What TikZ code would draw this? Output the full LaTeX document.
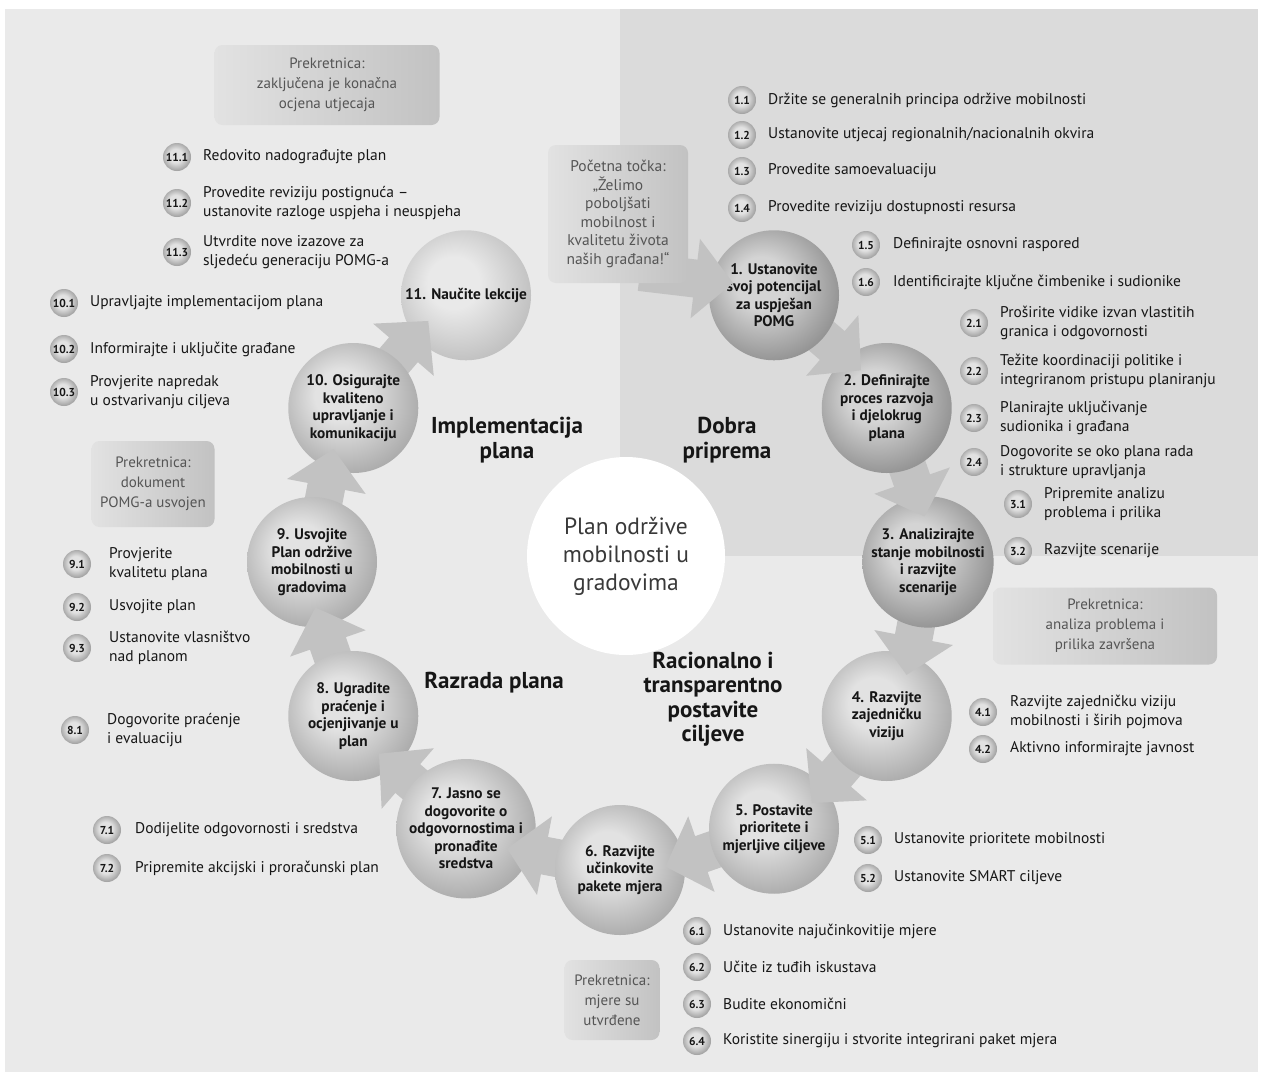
\documentclass[tikz,border=0pt]{standalone}
\usepackage{fontspec}
\setmainfont{PT Sans}
\usetikzlibrary{calc}
\definecolor{bgpanel}{HTML}{EAEAEA}
\definecolor{bgquad}{HTML}{DBDBDB}
\definecolor{arrowgray}{HTML}{C2C2C2}
\definecolor{dIn}{HTML}{D4D4D4}
\definecolor{dOut}{HTML}{8A8A8A}
\definecolor{mIn}{HTML}{E2E2E2}
\definecolor{mOut}{HTML}{A4A4A4}
\definecolor{lIn}{HTML}{E9E9E9}
\definecolor{lOut}{HTML}{BBBBBB}
\definecolor{bIn}{HTML}{E2E2E2}
\definecolor{bOut}{HTML}{979797}
\definecolor{msL}{HTML}{E2E2E2}
\definecolor{msR}{HTML}{C2C2C2}
\definecolor{mstext}{HTML}{555555}
\definecolor{ink}{HTML}{161616}
\pgfdeclareradialshading{balldark}{\pgfpoint{-6bp}{6bp}}{color(0bp)=(dIn); color(10bp)=(dIn); color(31bp)=(dOut); color(50bp)=(dOut)}
\pgfdeclareradialshading{ballmid}{\pgfpoint{-6bp}{6bp}}{color(0bp)=(mIn); color(10bp)=(mIn); color(31bp)=(mOut); color(50bp)=(mOut)}
\pgfdeclareradialshading{balllight}{\pgfpoint{-6bp}{6bp}}{color(0bp)=(lIn); color(10bp)=(lIn); color(31bp)=(lOut); color(50bp)=(lOut)}
\pgfdeclareradialshading{ballbadge}{\pgfpoint{-3bp}{3bp}}{color(0bp)=(bIn); color(12bp)=(bIn); color(28bp)=(bOut); color(50bp)=(bOut)}
\newcommand{\blockarrow}[2]{%
  \coordinate (ah) at ($(#2)!38pt!(#1)$);
  \fill[arrowgray] ($(#1)!19pt!90:(#2)$) -- ($(ah)!19pt!90:(#2)$) -- ($(ah)!40pt!90:(#2)$) -- (#2)
    -- ($(ah)!40pt!-90:(#2)$) -- ($(ah)!19pt!-90:(#2)$) -- ($(#1)!19pt!-90:(#2)$) -- cycle;}
\newcommand{\actitem}[6]{%
  \node[badge] (b#1) at (#3,#4) {#2};
  \node[itemtxt] (t#1) at ($(b#1)+(#5,0)$) {#6};}
\begin{document}
\begin{tikzpicture}[x=1pt,y=-1pt,
  stepdark/.style={circle, minimum size=130pt, inner sep=0pt, shading=balldark, align=center, font=\fontsize{15.3}{17.5}\selectfont\bfseries, text=ink},
  stepmid/.style={stepdark, shading=ballmid},
  steplight/.style={stepdark, shading=balllight},
  badge/.style={circle, minimum size=28pt, inner sep=0pt, shading=ballbadge, font=\fontsize{11.5}{11.5}\selectfont\bfseries, text=ink},
  itemtxt/.style={anchor=west, align=left, inner sep=0pt, font=\fontsize{15.5}{19.5}\selectfont, text=ink},
  milestone/.style 2 args={rounded corners=8pt, left color=msL, right color=msR, align=center, font=\fontsize{15}{20}\selectfont, text=mstext, inner sep=0pt, minimum width=#1, minimum height=#2},
  phase/.style={align=center, font=\fontsize{23}{24.5}\selectfont\bfseries, text=ink}]
\useasboundingbox (0,0) rectangle (1263,1079);
\fill[white] (0,0) rectangle (1263,1079);
\fill[bgpanel] (5,9) rectangle (1258,1072);
\fill[bgquad] (620,9) rectangle (1258,556);

% centre
\node[circle, fill=white, minimum size=198pt, inner sep=0pt, align=center, font=\fontsize{23.5}{28}\selectfont, text=ink!85] (centre) at (626,556) {Plan održive\\mobilnosti u\\gradovima};

% phase labels
\node[phase] (phImpl) at (507,440) {Implementacija\\plana};
\node[phase] (phDobra) at (727,440) {Dobra\\priprema};
\node[phase] (phRac) at (713,699) {Racionalno i\\transparentno\\postavite\\ciljeve};
\node[phase] (phRaz) at (494,683) {Razrada plana};

% milestones
\node[milestone={225pt}{80pt}] (msTop) at (327,85) {Prekretnica:\\zaključena je konačna\\ocjena utjecaja};
\node[milestone={123pt}{86pt}] (msLeft) at (153,484) {Prekretnica:\\dokument\\POMG-a usvojen};
\node[milestone={224pt}{77pt}] (msRight) at (1105,626) {Prekretnica:\\analiza problema i\\prilika završena};
\node[milestone={95pt}{80pt}] (msBottom) at (612,1000) {Prekretnica:\\mjere su\\utvrđene};

% activity items
\actitem{s11a}{11.1}{177}{157}{26}{Redovito nadograđujte plan}
\actitem{s11b}{11.2}{177}{203}{26}{Provedite reviziju postignuća –\\ustanovite razloge uspjeha i neuspjeha}
\actitem{s11c}{11.3}{177}{252}{26}{Utvrdite nove izazove za\\sljedeću generaciju POMG-a}
\actitem{s10a}{10.1}{64}{303}{26}{Upravljajte implementacijom plana}
\actitem{s10b}{10.2}{64}{349}{26}{Informirajte i uključite građane}
\actitem{s10c}{10.3}{64}{392}{26}{Provjerite napredak\\u ostvarivanju ciljeva}
\actitem{s9a}{9.1}{77}{564}{32}{Provjerite\\kvalitetu plana}
\actitem{s9b}{9.2}{77}{607}{32}{Usvojite plan}
\actitem{s9c}{9.3}{77}{648}{32}{Ustanovite vlasništvo\\nad planom}
\actitem{s8a}{8.1}{75}{730}{32}{Dogovorite praćenje\\i evaluaciju}
\actitem{s7a}{7.1}{107}{830}{28}{Dodijelite odgovornosti i sredstva}
\actitem{s7b}{7.2}{107}{868}{28}{Pripremite akcijski i proračunski plan}
\actitem{s6a}{6.1}{697}{931}{26}{Ustanovite najučinkovitije mjere}
\actitem{s6b}{6.2}{697}{967}{26}{Učite iz tuđih iskustava}
\actitem{s6c}{6.3}{697}{1004}{26}{Budite ekonomični}
\actitem{s6d}{6.4}{697}{1041}{26}{Koristite sinergiju i stvorite integrirani paket mjera}
\actitem{s5a}{5.1}{868}{840}{26}{Ustanovite prioritete mobilnosti}
\actitem{s5b}{5.2}{868}{878}{26}{Ustanovite SMART ciljeve}
\actitem{s4a}{4.1}{983}{712}{27}{Razvijte zajedničku viziju\\mobilnosti i širih pojmova}
\actitem{s4b}{4.2}{983}{749}{27}{Aktivno informirajte javnost}
\actitem{s3a}{3.1}{1018}{504}{26}{Pripremite analizu\\problema i prilika}
\actitem{s3b}{3.2}{1018}{551}{26}{Razvijte scenarije}
\actitem{s2a}{2.1}{974}{323}{26}{Proširite vidike izvan vlastitih\\granica i odgovornosti}
\actitem{s2b}{2.2}{974}{371}{26}{Težite koordinaciji politike i\\integriranom pristupu planiranju}
\actitem{s2c}{2.3}{974}{418}{26}{Planirajte uključivanje\\sudionika i građana}
\actitem{s2d}{2.4}{974}{462}{26}{Dogovorite se oko plana rada\\i strukture upravljanja}
\actitem{s1a}{1.1}{742}{100}{26}{Držite se generalnih principa održive mobilnosti}
\actitem{s1b}{1.2}{742}{135}{26}{Ustanovite utjecaj regionalnih/nacionalnih okvira}
\actitem{s1c}{1.3}{742}{171}{26}{Provedite samoevaluaciju}
\actitem{s1d}{1.4}{742}{208}{26}{Provedite reviziju dostupnosti resursa}
\actitem{s1e}{1.5}{866}{245}{27}{Definirajte osnovni raspored}
\actitem{s1f}{1.6}{866}{282}{27}{Identificirajte ključne čimbenike i sudionike}

% ring positions
\coordinate (O) at (620,562);
\foreach \k/\ang in {1/-60,2/-30,3/0,4/30,5/60,6/90,7/120,8/150,9/180,10/210,11/240}{
  \pgfmathsetmacro\tip{\ang-8.5}
  \coordinate (p\k) at ($(O)+(\ang:308)$);
  \coordinate (h\k) at ($(O)+({\tip}:308)$);
}

% circles and arrows (drawn from last to first so each arrow lies over its target and under its source)
\node[steplight] (c11) at (p11) {11. Naučite lekcije};
\blockarrow{p10}{h11}
\node[stepmid] (c10) at (p10) {10. Osigurajte\\kvaliteno\\upravljanje i\\komunikaciju};
\blockarrow{p9}{h10}
\node[stepmid] (c9) at (p9) {9. Usvojite\\Plan održive\\mobilnosti u\\gradovima};
\blockarrow{p8}{h9}
\node[stepmid] (c8) at (p8) {8. Ugradite\\praćenje i\\ocjenjivanje u\\plan};
\blockarrow{p7}{h8}
\node[stepmid] (c7) at (p7) {7. Jasno se\\dogovorite o\\odgovornostima i\\pronađite\\sredstva};
\blockarrow{p6}{h7}
\node[stepmid] (c6) at (p6) {6. Razvijte\\učinkovite\\pakete mjera};
\blockarrow{p5}{h6}
\node[stepmid] (c5) at (p5) {5. Postavite\\prioritete i\\mjerljive ciljeve};
\blockarrow{p4}{h5}
\node[stepmid] (c4) at (p4) {4. Razvijte\\zajedničku\\viziju};
\blockarrow{p3}{h4}
\node[stepdark] (c3) at (p3) {3. Analizirajte\\stanje mobilnosti\\i razvijte\\scenarije};
\blockarrow{p2}{h3}
\node[stepdark] (c2) at (p2) {2. Definirajte\\proces razvoja\\i djelokrug\\plana};
\blockarrow{p1}{h2}
\node[stepdark] (c1) at (p1) {1. Ustanovite\\svoj potencijal\\za uspješan\\POMG};

% start
\coordinate (st) at (640,272);
\coordinate (sh) at (733,283);
\blockarrow{st}{sh}
\node[milestone={140pt}{138pt}, font=\fontsize{15.5}{18.5}\selectfont] (start) at (618,214) {Početna točka:\\„Želimo\\poboljšati\\mobilnost i\\kvalitetu života\\naših građana!“};
\end{tikzpicture}
\end{document}
